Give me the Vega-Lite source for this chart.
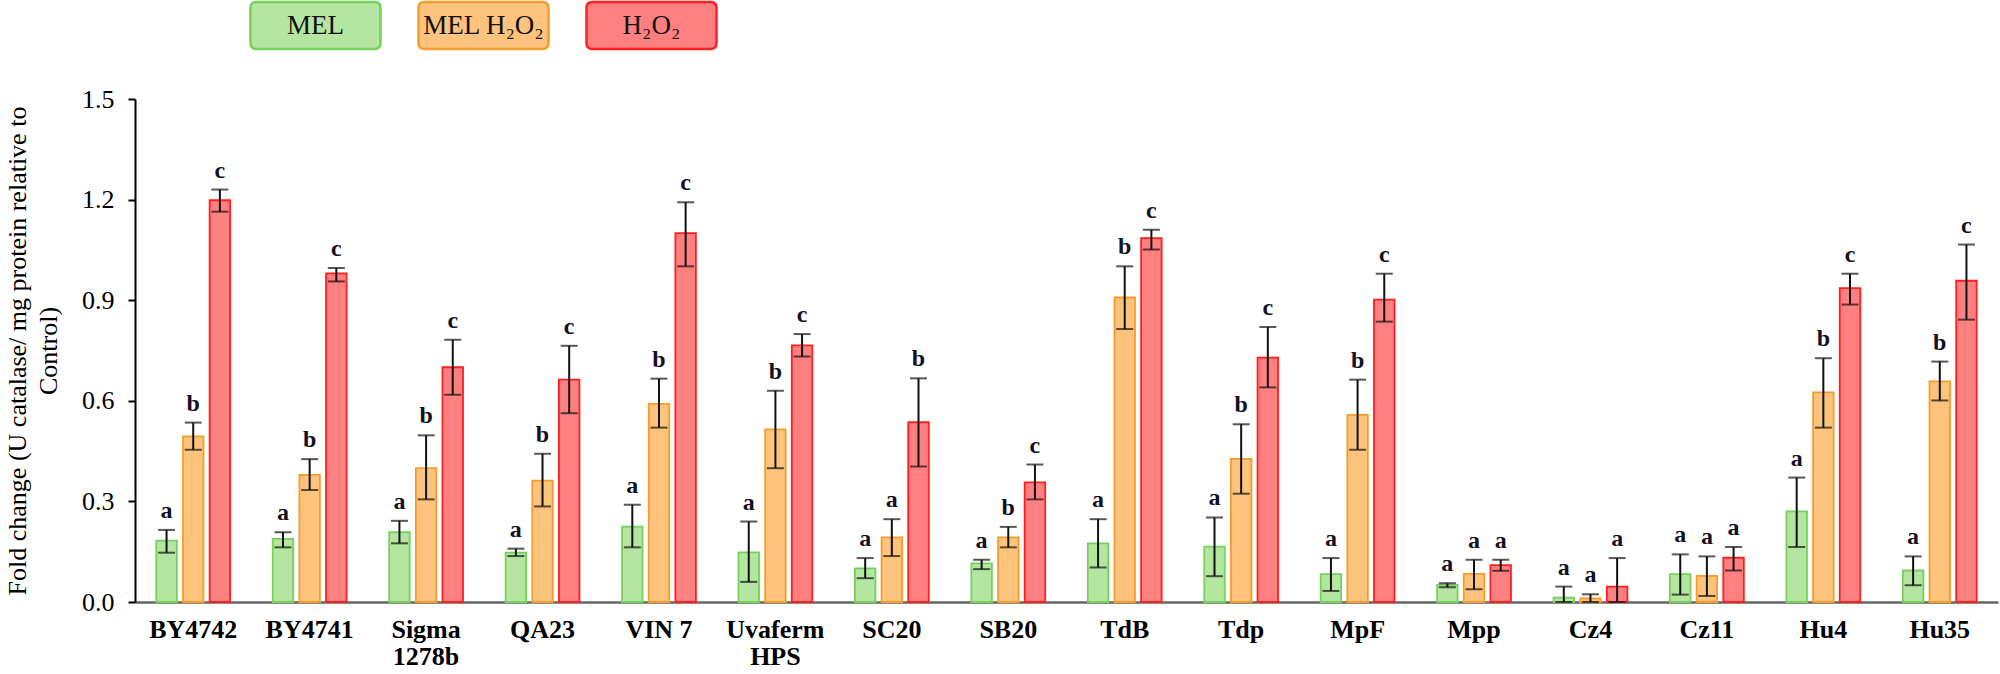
{
  "$schema": "https://vega.github.io/schema/vega-lite/v6.json",
  "width": 1863,
  "height": 503,
  "autosize": {"type": "none"},
  "padding": {"left": 135, "top": 99, "right": 2, "bottom": 72},
  "background": "white",
  "config": {
    "view": {"stroke": null},
    "font": "Liberation Serif",
    "axis": {"grid": false, "labelFont": "Liberation Serif", "titleFont": "Liberation Serif"},
    "legend": {"labelFont": "Liberation Serif"}
  },
  "data": {
    "values": [
      {"strain": "BY4742", "treatment": "MEL", "value": 0.183, "lo": 0.147, "hi": 0.215, "letter": "a"},
      {"strain": "BY4742", "treatment": "MEL H₂O₂", "value": 0.494, "lo": 0.454, "hi": 0.535, "letter": "b"},
      {"strain": "BY4742", "treatment": "H₂O₂", "value": 1.198, "lo": 1.164, "hi": 1.230, "letter": "c"},
      {"strain": "BY4741", "treatment": "MEL", "value": 0.188, "lo": 0.163, "hi": 0.208, "letter": "a"},
      {"strain": "BY4741", "treatment": "MEL H₂O₂", "value": 0.379, "lo": 0.334, "hi": 0.426, "letter": "b"},
      {"strain": "BY4741", "treatment": "H₂O₂", "value": 0.980, "lo": 0.956, "hi": 0.996, "letter": "c"},
      {"strain": "Sigma 1278b", "treatment": "MEL", "value": 0.208, "lo": 0.175, "hi": 0.242, "letter": "a"},
      {"strain": "Sigma 1278b", "treatment": "MEL H₂O₂", "value": 0.399, "lo": 0.306, "hi": 0.497, "letter": "b"},
      {"strain": "Sigma 1278b", "treatment": "H₂O₂", "value": 0.700, "lo": 0.618, "hi": 0.782, "letter": "c"},
      {"strain": "QA23", "treatment": "MEL", "value": 0.147, "lo": 0.137, "hi": 0.159, "letter": "a"},
      {"strain": "QA23", "treatment": "MEL H₂O₂", "value": 0.362, "lo": 0.285, "hi": 0.442, "letter": "b"},
      {"strain": "QA23", "treatment": "H₂O₂", "value": 0.663, "lo": 0.563, "hi": 0.764, "letter": "c"},
      {"strain": "VIN 7", "treatment": "MEL", "value": 0.225, "lo": 0.163, "hi": 0.290, "letter": "a"},
      {"strain": "VIN 7", "treatment": "MEL H₂O₂", "value": 0.591, "lo": 0.520, "hi": 0.666, "letter": "b"},
      {"strain": "VIN 7", "treatment": "H₂O₂", "value": 1.100, "lo": 1.001, "hi": 1.192, "letter": "c"},
      {"strain": "Uvaferm HPS", "treatment": "MEL", "value": 0.148, "lo": 0.060, "hi": 0.240, "letter": "a"},
      {"strain": "Uvaferm HPS", "treatment": "MEL H₂O₂", "value": 0.515, "lo": 0.399, "hi": 0.630, "letter": "b"},
      {"strain": "Uvaferm HPS", "treatment": "H₂O₂", "value": 0.765, "lo": 0.732, "hi": 0.799, "letter": "c"},
      {"strain": "SC20", "treatment": "MEL", "value": 0.100, "lo": 0.071, "hi": 0.131, "letter": "a"},
      {"strain": "SC20", "treatment": "MEL H₂O₂", "value": 0.193, "lo": 0.137, "hi": 0.247, "letter": "a"},
      {"strain": "SC20", "treatment": "H₂O₂", "value": 0.536, "lo": 0.404, "hi": 0.667, "letter": "b"},
      {"strain": "SB20", "treatment": "MEL", "value": 0.115, "lo": 0.098, "hi": 0.126, "letter": "a"},
      {"strain": "SB20", "treatment": "MEL H₂O₂", "value": 0.193, "lo": 0.163, "hi": 0.224, "letter": "b"},
      {"strain": "SB20", "treatment": "H₂O₂", "value": 0.357, "lo": 0.306, "hi": 0.410, "letter": "c"},
      {"strain": "TdB", "treatment": "MEL", "value": 0.175, "lo": 0.103, "hi": 0.247, "letter": "a"},
      {"strain": "TdB", "treatment": "MEL H₂O₂", "value": 0.908, "lo": 0.814, "hi": 1.001, "letter": "b"},
      {"strain": "TdB", "treatment": "H₂O₂", "value": 1.085, "lo": 1.051, "hi": 1.110, "letter": "c"},
      {"strain": "Tdp", "treatment": "MEL", "value": 0.165, "lo": 0.077, "hi": 0.252, "letter": "a"},
      {"strain": "Tdp", "treatment": "MEL H₂O₂", "value": 0.427, "lo": 0.323, "hi": 0.530, "letter": "b"},
      {"strain": "Tdp", "treatment": "H₂O₂", "value": 0.729, "lo": 0.640, "hi": 0.820, "letter": "c"},
      {"strain": "MpF", "treatment": "MEL", "value": 0.083, "lo": 0.033, "hi": 0.131, "letter": "a"},
      {"strain": "MpF", "treatment": "MEL H₂O₂", "value": 0.558, "lo": 0.454, "hi": 0.663, "letter": "b"},
      {"strain": "MpF", "treatment": "H₂O₂", "value": 0.902, "lo": 0.836, "hi": 0.979, "letter": "c"},
      {"strain": "Mpp", "treatment": "MEL", "value": 0.051, "lo": 0.044, "hi": 0.056, "letter": "a"},
      {"strain": "Mpp", "treatment": "MEL H₂O₂", "value": 0.084, "lo": 0.038, "hi": 0.126, "letter": "a"},
      {"strain": "Mpp", "treatment": "H₂O₂", "value": 0.110, "lo": 0.093, "hi": 0.126, "letter": "a"},
      {"strain": "Cz4", "treatment": "MEL", "value": 0.013, "lo": 0.0, "hi": 0.046, "letter": "a"},
      {"strain": "Cz4", "treatment": "MEL H₂O₂", "value": 0.011, "lo": 0.0, "hi": 0.023, "letter": "a"},
      {"strain": "Cz4", "treatment": "H₂O₂", "value": 0.046, "lo": 0.0, "hi": 0.131, "letter": "a"},
      {"strain": "Cz11", "treatment": "MEL", "value": 0.083, "lo": 0.022, "hi": 0.142, "letter": "a"},
      {"strain": "Cz11", "treatment": "MEL H₂O₂", "value": 0.078, "lo": 0.018, "hi": 0.136, "letter": "a"},
      {"strain": "Cz11", "treatment": "H₂O₂", "value": 0.132, "lo": 0.094, "hi": 0.164, "letter": "a"},
      {"strain": "Hu4", "treatment": "MEL", "value": 0.270, "lo": 0.164, "hi": 0.371, "letter": "a"},
      {"strain": "Hu4", "treatment": "MEL H₂O₂", "value": 0.625, "lo": 0.520, "hi": 0.727, "letter": "b"},
      {"strain": "Hu4", "treatment": "H₂O₂", "value": 0.936, "lo": 0.887, "hi": 0.979, "letter": "c"},
      {"strain": "Hu35", "treatment": "MEL", "value": 0.094, "lo": 0.050, "hi": 0.136, "letter": "a"},
      {"strain": "Hu35", "treatment": "MEL H₂O₂", "value": 0.658, "lo": 0.601, "hi": 0.717, "letter": "b"},
      {"strain": "Hu35", "treatment": "H₂O₂", "value": 0.958, "lo": 0.842, "hi": 1.066, "letter": "c"}
    ]
  },
  "encoding": {
    "x": {
      "field": "strain",
      "type": "nominal",
      "sort": null,
      "scale": {"paddingInner": 0.32, "paddingOuter": 0.16},
      "axis": {
        "title": null,
        "labelAngle": 0,
        "ticks": false,
        "tickSize": 0,
        "domainColor": "#666666",
        "domainWidth": 2.5,
        "labelFontSize": 26,
        "labelFontWeight": "bold",
        "labelColor": "#000000",
        "labelPadding": 14,
        "labelLineHeight": 27,
        "labelExpr": "datum.label == 'Sigma 1278b' ? ['Sigma', '1278b'] : datum.label == 'Uvaferm HPS' ? ['Uvaferm', 'HPS'] : datum.label"
      }
    },
    "xOffset": {
      "field": "treatment",
      "type": "nominal",
      "scale": {"domain": ["MEL", "MEL H₂O₂", "H₂O₂"], "paddingInner": 0.23, "paddingOuter": 0.1}
    }
  },
  "layer": [
    {
      "mark": {"type": "bar", "strokeWidth": 1.8},
      "encoding": {
        "y": {
          "field": "value",
          "type": "quantitative",
          "scale": {"domain": [0, 1.5], "nice": false, "zero": true},
          "axis": {
            "values": [0, 0.3, 0.6, 0.9, 1.2, 1.5],
            "format": ".1f",
            "title": ["Fold change (U catalase/ mg protein relative to", "Control)"],
            "titleFontSize": 26,
            "titleFontWeight": "normal",
            "titleColor": "#000000",
            "titleLineHeight": 31,
            "titlePadding": 20,
            "labelFontSize": 26,
            "labelColor": "#000000",
            "labelPadding": 14,
            "domainColor": "#000000",
            "domainWidth": 2,
            "tickColor": "#000000",
            "tickWidth": 2,
            "tickSize": 7
          }
        },
        "fill": {
          "field": "treatment",
          "type": "nominal",
          "scale": {"domain": ["MEL", "MEL H₂O₂", "H₂O₂"], "range": ["#b5e6a1", "#fec47e", "#ff8080"]},
          "legend": {
            "orient": "none",
            "legendX": 114,
            "legendY": -140,
            "direction": "horizontal",
            "title": null,
            "symbolType": "M-0.91,-0.3615 L0.91,-0.3615 Q1,-0.3615 1,-0.27 L1,0.27 Q1,0.3615 0.91,0.3615 L-0.91,0.3615 Q-1,0.3615 -1,0.27 L-1,-0.27 Q-1,-0.3615 -0.91,-0.3615 Z",
            "symbolSize": 16900,
            "symbolStrokeWidth": 2.5,
            "symbolOpacity": 1,
            "labelAlign": "center",
            "labelOffset": -66.5,
            "labelFontSize": 27,
            "labelColor": "#111111",
            "labelLimit": 300,
            "columnPadding": 27
          }
        },
        "stroke": {
          "field": "treatment",
          "type": "nominal",
          "scale": {"domain": ["MEL", "MEL H₂O₂", "H₂O₂"], "range": ["#74d25a", "#f79c2a", "#ff1f1f"]}
        }
      }
    },
    {
      "mark": {"type": "rule", "color": "#111111", "strokeWidth": 2},
      "encoding": {
        "y": {"field": "lo", "type": "quantitative"},
        "y2": {"field": "hi"}
      }
    },
    {
      "mark": {"type": "tick", "orient": "horizontal", "color": "#111111", "size": 17, "thickness": 2},
      "encoding": {
        "y": {"field": "hi", "type": "quantitative"}
      }
    },
    {
      "mark": {"type": "tick", "orient": "horizontal", "color": "#111111", "size": 17, "thickness": 2},
      "encoding": {
        "y": {"field": "lo", "type": "quantitative"}
      }
    },
    {
      "mark": {"type": "text", "font": "Liberation Serif", "fontSize": 24, "fontWeight": "bold", "color": "#111122", "baseline": "alphabetic", "dy": -12},
      "encoding": {
        "y": {"field": "hi", "type": "quantitative"},
        "text": {"field": "letter"}
      }
    }
  ]
}
